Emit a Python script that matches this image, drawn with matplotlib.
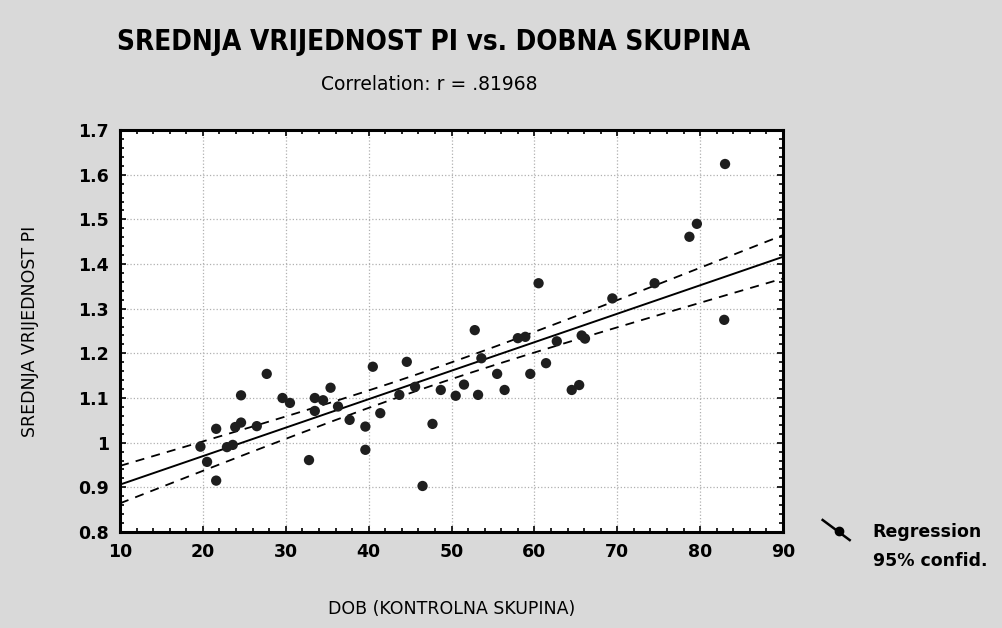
"""
Scatter of mean PI vs. age group with regression line and 95% confidence band.
"""
import matplotlib
matplotlib.use('Agg')
import matplotlib.pyplot as plt
from matplotlib.lines import Line2D
from matplotlib.ticker import MultipleLocator, FuncFormatter
import numpy as np

# Age (x) and mean PI (y).
dob = [19.7, 20.5, 21.6, 21.6, 22.9, 23.6, 23.9, 24.6, 24.6, 26.5,
       27.7, 29.6, 30.5, 32.8, 33.5, 33.5, 34.5, 35.4, 36.3, 37.7,
       39.6, 39.6, 40.5, 41.4, 43.7, 44.6, 45.6, 46.5, 47.7, 48.7,
       50.5, 51.5, 52.8, 53.2, 53.6, 55.5, 56.4, 58.0, 58.9, 59.5,
       60.5, 61.4, 62.7, 64.5, 65.4, 65.7, 66.1, 69.4, 74.5, 78.7,
       79.6, 82.9, 83.0]
pi = [0.991, 0.957, 1.031, 0.915, 0.990, 0.995, 1.035, 1.045, 1.106, 1.037,
      1.154, 1.100, 1.089, 0.961, 1.100, 1.071, 1.095, 1.123, 1.081, 1.051,
      1.036, 0.984, 1.170, 1.066, 1.107, 1.181, 1.125, 0.903, 1.042, 1.118,
      1.105, 1.130, 1.252, 1.107, 1.189, 1.154, 1.118, 1.234, 1.237, 1.154,
      1.357, 1.178, 1.227, 1.118, 1.129, 1.240, 1.233, 1.323, 1.357, 1.461,
      1.490, 1.275, 1.624]

title = "SREDNJA VRIJEDNOST PI vs. DOBNA SKUPINA"
subtitle = "Correlation: r = .81968"
xlabel = "DOB (KONTROLNA SKUPINA)"
ylabel = "SREDNJA VRIJEDNOST PI"

x = np.asarray(dob)
y = np.asarray(pi)
n = len(x)

# least squares fit and confidence band for the mean
# (band multiplier tuned to the width seen on the scan)
conf_t = 1.6
b, a = np.polyfit(x, y, 1)
resid = y - (a + b * x)
s = np.sqrt(np.sum(resid ** 2) / (n - 2))
sxx = np.sum((x - x.mean()) ** 2)
xx = np.linspace(10, 90, 200)
yy = a + b * xx
half = conf_t * s * np.sqrt(1.0 / n + (xx - x.mean()) ** 2 / sxx)

fig = plt.figure(figsize=(10.02, 6.28), dpi=100)
fig.patch.set_facecolor('#d9d9d9')
ax = fig.add_axes([0.1198, 0.1529, 0.6617, 0.640])
ax.set_facecolor('white')

ax.plot(xx, yy, color='black', lw=1.4)
ax.plot(xx, yy + half, color='black', lw=1.3, ls=(0, (5, 4)))
ax.plot(xx, yy - half, color='black', lw=1.3, ls=(0, (5, 4)))
ax.scatter(x, y, s=55, color='#1e1e1e', zorder=3, edgecolors='none')

ax.set_xlim(10, 90)
ax.set_ylim(0.8, 1.7)
ax.xaxis.set_major_locator(MultipleLocator(10))
ax.xaxis.set_minor_locator(MultipleLocator(2))
ax.yaxis.set_major_locator(MultipleLocator(0.1))
ax.yaxis.set_minor_locator(MultipleLocator(0.02))
ax.yaxis.set_major_formatter(FuncFormatter(lambda v, p: '%g' % round(v, 2)))
ax.tick_params(which='both', direction='in', top=True, right=True, width=1.2)
ax.tick_params(which='major', length=4, labelsize=12.5, pad=8)
ax.tick_params(which='minor', length=3)
for lab in ax.get_xticklabels() + ax.get_yticklabels():
    lab.set_fontweight('bold')
ax.grid(True, which='major', color='#b0b0b0', ls=':', lw=0.9)
for sp in ax.spines.values():
    sp.set_linewidth(2.2)

ax.set_xlabel(xlabel, fontsize=12.5, labelpad=28)
ax.set_ylabel(ylabel, fontsize=12.5, labelpad=28)

fig.text(0.433, 0.933, title, ha='center', va='center', fontsize=20,
         fontweight='heavy', fontstretch='condensed')
fig.text(0.428, 0.866, subtitle, ha='center', va='center', fontsize=13.5)

# legend at lower right
fig.add_artist(Line2D([0.821, 0.848], [0.172, 0.140], color='black', lw=1.8))
fig.add_artist(Line2D([0.837], [0.154], marker='o', ms=6, color='black'))
fig.text(0.871, 0.153, "Regression", fontsize=12.5, fontweight='bold',
         va='center')
fig.text(0.871, 0.106, "95% confid.", fontsize=12.5, fontweight='bold',
         va='center')

fig.savefig('out.png', dpi=100, facecolor=fig.get_facecolor())
